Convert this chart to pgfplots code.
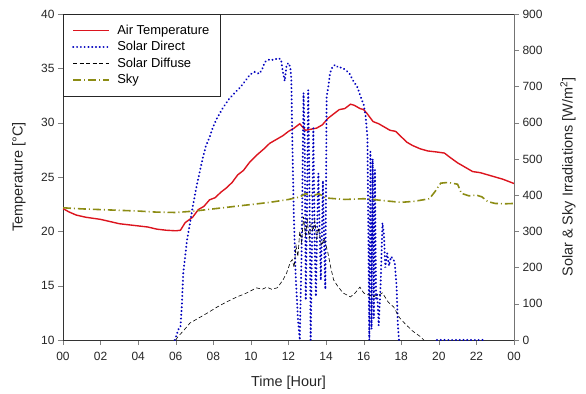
\documentclass[border=0pt]{standalone}
\usepackage{fontspec}
\setmainfont{Liberation Sans}
\usepackage{pgfplots}
\pgfplotsset{compat=1.18}
\definecolor{airred}{RGB}{220,20,30}
\definecolor{directblue}{RGB}{0,0,190}
\definecolor{skyolive}{RGB}{140,140,20}

\begin{document}
\begin{tikzpicture}
\pgfplotsset{
  common/.style={
    scale only axis, width=451bp, height=326bp,
    xmin=0, xmax=24,
    /pgf/number format/assume math mode=true,
    tick label style={font=\fontsize{12}{14}\selectfont, color=black!85},
    label style={font=\fontsize{14.5}{17}\selectfont, color=black!85},
    tick align=outside, major tick length=5bp,
  },
  directstyle/.style={directblue, line width=2.1pt, line cap=round, dash pattern=on 0.1pt off 3.7pt},
  diffusestyle/.style={black, line width=0.6pt, dash pattern=on 4pt off 2.5pt},
  skystyle/.style={skyolive, line width=1.6pt, dash pattern=on 8pt off 3pt on 1pt off 3pt},
  airstyle/.style={airred, line width=1.4pt},
}
% temperature axis (left) with the time axis
\begin{axis}[common, name=main,
  ymin=10, ymax=40, ytick={10,15,...,40},
  xtick={0,2,...,24}, xticklabels={00,02,04,06,08,10,12,14,16,18,20,22,00},
  xtick pos=bottom, ytick pos=left,
  xticklabel style={yshift=-4bp},
  xlabel={Time [Hour]}, ylabel={Temperature [°C]},
  xlabel style={at={(axis description cs:0.5,-0.132)}, anchor=center},
  ylabel style={at={(axis description cs:-0.0976,0.5)}, anchor=center, rotate=0},
  axis line style={black!80},
]
\addplot[airstyle] coordinates {
(0,22.1) (0.3,21.8) (0.7,21.5) (1.2,21.3) (1.6,21.2) (2.0,21.1) (2.5,20.9)
(3.0,20.7) (3.5,20.6) (4.0,20.5) (4.5,20.4) (5.0,20.2) (5.5,20.1) (6.0,20.05)
(6.25,20.1) (6.5,20.8) (6.9,21.3) (7.2,22.0) (7.5,22.3) (7.8,22.9) (8.1,23.1)
(8.4,23.6) (8.7,24.0) (9.0,24.5) (9.3,25.2) (9.6,25.6) (9.95,26.4) (10.3,27.0)
(10.7,27.6) (11.0,28.1) (11.4,28.5) (11.7,28.8) (12.0,29.2) (12.3,29.5)
(12.6,29.9) (12.9,29.3) (13.2,29.4) (13.5,29.5) (13.8,29.8) (14.1,30.4)
(14.4,30.8) (14.7,31.2) (15.0,31.3) (15.3,31.7) (15.5,31.6) (15.8,31.3)
(16.0,31.2) (16.2,30.8) (16.5,30.1) (16.8,29.9) (17.1,29.6) (17.4,29.3)
(17.7,29.2) (18.0,28.7) (18.3,28.2) (18.6,27.9) (19.0,27.6) (19.4,27.4)
(19.9,27.3) (20.3,27.2) (20.6,26.8) (21.0,26.3) (21.4,25.9) (21.8,25.5)
(22.2,25.4) (22.6,25.2) (23.0,25.0) (23.4,24.8) (23.7,24.6) (24.0,24.4)
};
\end{axis}
% irradiation axis (right)
\begin{axis}[common,
  ymin=0, ymax=900, ytick={0,100,...,900},
  axis y line*=right, axis x line=none,
  y axis line style={black!55},
  ylabel={Solar \& Sky Irradiations [W/m\textsuperscript{2}]},
  ylabel style={at={(axis description cs:1.1197,0.5)}, anchor=center},
  unbounded coords=jump,
  legend cell align=left,
  legend image code/.code={\draw[#1] (0bp,0bp) -- (36bp,0bp);},
  legend style={at={(0,1)}, anchor=north west, draw=black!85, fill=white,
    font=\fontsize{13}{15}\selectfont, inner xsep=9bp, inner ysep=9bp,
    row sep=1.5bp,
    /tikz/every odd column/.append style={column sep=5bp}},
]
\addlegendimage{airstyle}
\addlegendentry{Air Temperature}
\addplot[directstyle] coordinates {
(5.95,0) (6.05,15) (6.15,30) (6.25,36) (6.32,90) (6.4,185) (6.5,230) (6.6,276)
(6.75,320) (6.9,367) (7.1,422) (7.3,470) (7.45,505) (7.6,535) (7.8,560)
(8.0,590) (8.2,613) (8.5,640) (8.8,663) (9.1,680) (9.4,696) (9.7,715)
(9.95,733) (10.2,740) (10.45,735) (10.6,748) (10.75,768) (11.0,775) (11.2,773)
(11.45,778) (11.6,775) (11.7,740) (11.8,715) (11.9,760) (12.0,765) (12.1,752)
(12.15,720) (12.2,560) (12.28,350) (12.38,180) (12.5,60) (12.6,0) (12.7,250)
(12.8,682) (12.86,560) (12.92,110) (12.98,350) (13.05,690) (13.12,400)
(13.18,0) (13.26,300) (13.32,585) (13.4,250) (13.46,120) (13.52,300)
(13.59,460) (13.66,300) (13.72,165) (13.78,300) (13.83,440) (13.9,250)
(13.96,140) (14.03,672) (14.12,700) (14.21,737) (14.35,755) (14.5,760)
(14.65,752) (14.85,752) (15.05,745) (15.25,735) (15.45,715) (15.65,700)
(15.85,670) (16.0,650) (16.1,620) (16.2,560) (16.25,300) (16.3,0) (16.36,520)
(16.42,30) (16.48,500) (16.54,60) (16.6,470) (16.66,110) (16.72,130)
(16.8,40) (16.9,150) (17.0,323) (17.08,290) (17.15,200) (17.25,240)
(17.35,205) (17.45,230) (17.55,225) (17.65,215) (17.75,150) (17.82,40)
(17.88,0) (18.2,nan) (19.9,0) (22.4,0)
};
\addlegendentry{Solar Direct}
\addplot[diffusestyle] coordinates {
(6.0,0) (6.1,8) (6.4,25) (6.76,47) (7.2,60) (7.7,75) (8.2,91) (8.7,105)
(9.26,119) (9.7,128) (10.3,144) (10.6,140) (10.85,146) (11.1,140) (11.4,144)
(11.7,165) (11.9,185) (12.1,215) (12.2,222) (12.3,200) (12.4,260) (12.5,230)
(12.6,300) (12.7,270) (12.8,340) (12.9,290) (13.0,330) (13.1,280) (13.2,320)
(13.3,300) (13.4,330) (13.5,280) (13.6,310) (13.75,260) (13.9,280) (14.1,240)
(14.25,200) (14.4,166) (14.6,150) (14.9,130) (15.3,119) (15.55,130)
(15.8,146) (16.0,130) (16.2,125) (16.35,124) (16.5,119) (16.7,124)
(16.85,125) (17.0,130) (17.3,105) (17.6,91) (17.9,62) (18.2,45) (18.6,25)
(19.0,10) (19.2,0)
};
\addlegendentry{Solar Diffuse}
\addplot[skystyle] coordinates {
(0,365) (1,362) (2,360) (3,358) (4,356) (5,353) (6,352) (7,356) (8,362)
(9,368) (10,374) (11,380) (12,388) (12.6,395) (12.9,404) (13.3,398)
(13.6,404) (14.0,392) (15,388) (16,390) (16.5,388) (17,385) (18,380)
(18.7,383) (19.5,390) (19.8,410) (20.1,433) (20.5,435) (21.0,430) (21.2,405)
(21.6,398) (22.0,400) (22.3,395) (22.6,382) (23,377) (23.5,376) (24,377)
};
\addlegendentry{Sky}
\end{axis}
\pgfresetboundingbox
\path ([xshift=-63bp,yshift=-54bp]main.south west) rectangle ([xshift=72bp,yshift=14bp]main.north east);
\end{tikzpicture}
\end{document}
